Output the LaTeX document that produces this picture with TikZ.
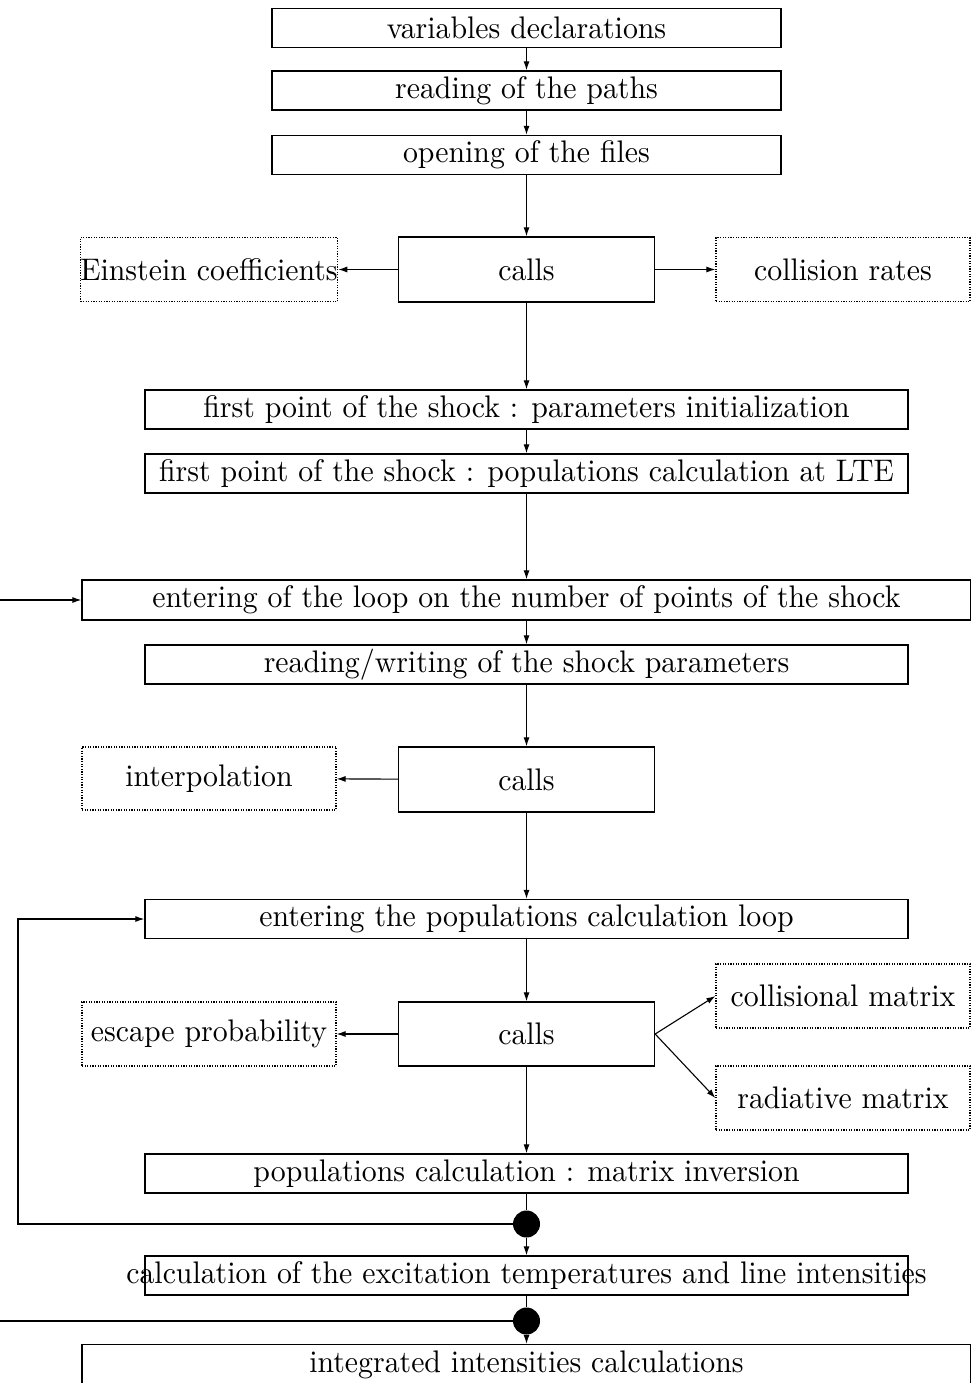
\documentclass[tikz,border=0pt]{standalone}
\usepackage{graphicx}
\usetikzlibrary{arrows.meta}
\newcommand{\T}[1]{\scalebox{2.98}[3.12]{#1}}
\begin{document}
\begin{tikzpicture}[x=1pt,y=-1pt,
  box/.style={draw, line width=1.3pt, minimum height=39pt, inner sep=0pt},
  narrowbox/.style={box, minimum width=509pt},
  widebox/.style={box, minimum width=763pt},
  fullbox/.style={box, minimum width=889pt, minimum height=40pt},
  callbox/.style={box, minimum width=256pt, minimum height=65pt},
  subbox/.style={draw, dash pattern=on 1.2pt off 1.4pt, line width=1.2pt, minimum width=254pt, minimum height=64pt, inner sep=0pt},
  arr/.style={-{Latex[length=9pt,width=6pt]}, line width=1.1pt},
  ln/.style={line width=1.1pt},
  bigdot/.style={circle, fill, inner sep=0pt, minimum size=27pt}]
\useasboundingbox (0,0) rectangle (970,1383);

\node[narrowbox] (b1) at (526.5,28) {\T{variables declarations}};
\node[narrowbox] (b2) at (526.5,90.5) {\T{reading of the paths}};
\node[narrowbox] (b3) at (526.5,155) {\T{opening of the files}};
\node[callbox] (c1) at (526.5,269.5) {\T{calls}};
\node[subbox] (ein) at (209,269.5) {\T{Einstein coefficients}};
\node[subbox] (col) at (843,269.5) {\T{collision rates}};
\node[widebox] (b5) at (526.5,409.5) {\T{first point of the shock : parameters initialization}};
\node[widebox] (b6) at (526.5,473.5) {\T{first point of the shock : populations calculation at LTE}};
\node[fullbox] (b7) at (526.5,600) {\T{entering of the loop on the number of points of the shock}};
\node[widebox] (b8) at (526.5,664.5) {\T{reading/writing of the shock parameters}};
\node[callbox] (c2) at (526.5,779.5) {\T{calls}};
\node[subbox, minimum height=63pt] (itp) at (209,778.5) {\T{interpolation}};
\node[widebox] (b10) at (526.5,919) {\T{entering the populations calculation loop}};
\node[callbox, minimum height=64pt] (c3) at (526.5,1034) {\T{calls}};
\node[subbox] (esc) at (209,1034) {\T{escape probability}};
\node[subbox] (cm) at (843,996) {\T{collisional matrix}};
\node[subbox] (rm) at (843,1098) {\T{radiative matrix}};
\node[widebox] (b12) at (526.5,1173.5) {\T{populations calculation : matrix inversion}};
\node[bigdot] (d1) at (526.5,1224) {};
\node[widebox] (b13) at (526.5,1275.5) {};
\node (t13) at (b13.center) {\T{calculation of the excitation temperatures and line intensities}};
\node[bigdot] (d2) at (526.5,1321) {};
\node[fullbox] (b14) at (526.5,1364.5) {\T{integrated intensities calculations}};

\coordinate (lp) at (18,0);
\coordinate (in7) at (0,600);
\coordinate (in14) at (0,1321);

\draw[arr] (b1) -- (b2);
\draw[arr] (b2) -- (b3);
\draw[arr] (b3) -- (c1);
\draw[arr] (c1) -- (ein);
\draw[arr] (c1) -- (col);
\draw[arr] (c1) -- (b5);
\draw[arr] (b5) -- (b6);
\draw[arr] (b6) -- (b7);
\draw[arr] (in7) -- (b7);
\draw[arr] (b7) -- (b8);
\draw[arr] (b8) -- (c2);
\draw[arr] (c2) -- (itp);
\draw[arr] (c2) -- (b10);
\draw[arr] (b10) -- (c3);
\draw[arr] (c3) -- (esc);
\draw[arr] (c3.east) -- (cm.west);
\draw[arr] (c3.east) -- (rm.west);
\draw[arr] (c3) -- (b12);
\draw[ln] (b12) -- (d1);
\draw[arr] (d1) -- (d1 -| lp) |- (b10);
\draw[arr] (d1) -- (b13);
\draw[ln] (b13) -- (d2);
\draw[ln] (in14) -- (d2);
\draw[arr] (d2) -- (b14);
\end{tikzpicture}
\end{document}
